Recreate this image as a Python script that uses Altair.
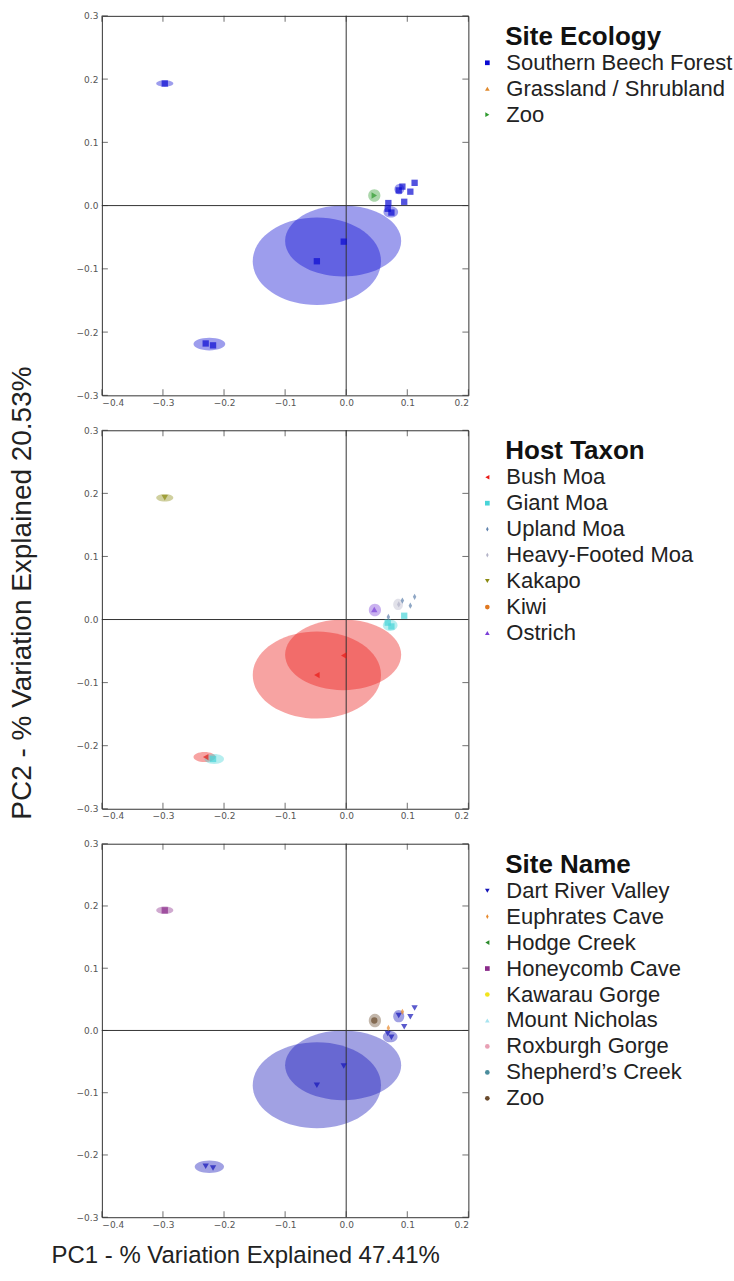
import altair as alt
import pandas as pd

# ---------------- data ----------------
pc1 = [-0.297, -0.230, -0.218, -0.048, -0.004, 0.046, 0.069, 0.068, 0.074, 0.086, 0.092, 0.095, 0.105, 0.112]
pc2 = [0.193, -0.218, -0.221, -0.088, -0.057, 0.016, 0.004, -0.005, -0.011, 0.024, 0.030, 0.006, 0.022, 0.036]

site_ecology = ["Southern Beech Forest"] * 5 + ["Zoo"] + ["Southern Beech Forest"] * 8
host_taxon = ["Kakapo", "Bush Moa", "Giant Moa", "Bush Moa", "Bush Moa", "Ostrich", "Upland Moa",
              "Giant Moa", "Giant Moa", "Heavy-Footed Moa", "Upland Moa", "Giant Moa", "Upland Moa", "Upland Moa"]
site_name = ["Honeycomb Cave", "Dart River Valley", "Dart River Valley", "Dart River Valley", "Dart River Valley",
             "Zoo", "Euphrates Cave", "Dart River Valley", "Dart River Valley", "Dart River Valley",
             "Euphrates Cave", "Dart River Valley", "Dart River Valley", "Dart River Valley"]

# confidence ellipses: group, centre (pc1, pc2), semi-axes (pc1 units, pc2 units)
eco_ell_group = ["Southern Beech Forest"] * 6 + ["Zoo"]
eco_ell_x = [-0.297, -0.224, -0.048, -0.005, 0.073, 0.087, 0.046]
eco_ell_y = [0.193, -0.219, -0.088, -0.056, -0.010, 0.026, 0.016]
eco_ell_rx = [0.014, 0.026, 0.105, 0.095, 0.012, 0.008, 0.010]
eco_ell_ry = [0.005, 0.010, 0.069, 0.056, 0.009, 0.008, 0.010]

host_ell_group = ["Kakapo", "Bush Moa", "Giant Moa", "Bush Moa", "Bush Moa", "Ostrich", "Giant Moa", "Heavy-Footed Moa"]
host_ell_x = [-0.297, -0.232, -0.216, -0.048, -0.005, 0.047, 0.072, 0.085]
host_ell_y = [0.193, -0.218, -0.221, -0.088, -0.056, 0.015, -0.009, 0.024]
host_ell_rx = [0.014, 0.018, 0.016, 0.105, 0.095, 0.010, 0.012, 0.008]
host_ell_ry = [0.006, 0.008, 0.008, 0.069, 0.056, 0.010, 0.009, 0.009]

site_ell_group = ["Honeycomb Cave", "Dart River Valley", "Dart River Valley", "Dart River Valley", "Zoo",
                  "Dart River Valley", "Dart River Valley"]
site_ell_x = [-0.297, -0.224, -0.048, -0.005, 0.047, 0.086, 0.072]
site_ell_y = [0.193, -0.219, -0.088, -0.056, 0.016, 0.023, -0.010]
site_ell_rx = [0.014, 0.024, 0.105, 0.095, 0.010, 0.009, 0.012]
site_ell_ry = [0.006, 0.010, 0.069, 0.056, 0.011, 0.010, 0.009]

x_ticks = [-0.4, -0.3, -0.2, -0.1, 0.0, 0.1, 0.2]
y_ticks = [-0.3, -0.2, -0.1, 0.0, 0.1, 0.2, 0.3]

x_title = "PC1 - % Variation Explained 47.41%"
y_title = "PC2 - % Variation Explained 20.53%"

THIN = "M0,-1L0.55,0L0,1L-0.55,0Z"

eco_domain = ["Southern Beech Forest", "Grassland / Shrubland", "Zoo"]
eco_colors = ["#0a0ad2", "#e0892c", "#2e9a2e"]
eco_shapes = ["square", "triangle-up", "triangle-right"]

host_domain = ["Bush Moa", "Giant Moa", "Upland Moa", "Heavy-Footed Moa", "Kakapo", "Kiwi", "Ostrich"]
host_colors = ["#ea1a16", "#48d4d8", "#5f82ad", "#b4b4c8", "#8a8a10", "#e07820", "#7b3fd8"]
host_shapes = ["triangle-left", "square", THIN, THIN, "triangle-down", "circle", "triangle-up"]

site_domain = ["Dart River Valley", "Euphrates Cave", "Hodge Creek", "Honeycomb Cave", "Kawarau Gorge",
               "Mount Nicholas", "Roxburgh Gorge", "Shepherd\u2019s Creek", "Zoo"]
site_colors = ["#1414b8", "#e8892c", "#2a8a2a", "#8a2a8a", "#f2e41c", "#a8e4f0", "#e8a0b4", "#4a8c9c", "#6a4a2c"]
site_shapes = ["triangle-down", THIN, "triangle-left", "square", "circle", "triangle-up", "circle", "circle", "circle"]

W = 367
XDOM = [-0.4, 0.2]
YDOM = [-0.3, 0.3]
FONT = "Liberation Sans"


def ellipse_path(r):
    k = 0.5523
    return (f"M1,0C1,{k*r:.4f} {k:.4f},{r:.4f} 0,{r:.4f}"
            f"C{-k:.4f},{r:.4f} -1,{k*r:.4f} -1,0"
            f"C-1,{-k*r:.4f} {-k:.4f},{-r:.4f} 0,{-r:.4f}"
            f"C{k:.4f},{-r:.4f} 1,{-k*r:.4f} 1,0Z")


def panel(groups, ell_g, ell_x, ell_y, ell_rx, ell_ry, title, dom, cols, shapes, h,
          show_x_title=False, show_y_title=False):
    ppx = W / (XDOM[1] - XDOM[0])
    ppy = h / (YDOM[1] - YDOM[0])
    pts = pd.DataFrame({"pc1": pc1, "pc2": pc2, "g": groups})
    ell = pd.DataFrame({"pc1": ell_x, "pc2": ell_y, "g": ell_g})
    ell["path"] = [ellipse_path((ry * ppy) / (rx * ppx)) for rx, ry in zip(ell_rx, ell_ry)]
    ell["sz"] = [(2 * rx * ppx) ** 2 for rx in ell_rx]

    xs = alt.Scale(domain=XDOM, nice=False, zero=False)
    ys = alt.Scale(domain=YDOM, nice=False, zero=False)
    xaxis = alt.Axis(values=x_ticks, format=".1f", ticks=False, domain=False, grid=False, labelPadding=3)
    yaxis = alt.Axis(values=y_ticks, format=".1f", ticks=False, domain=False, grid=False, labelPadding=4)
    xenc = alt.X("pc1:Q", title=None, axis=xaxis, scale=xs)
    yenc = alt.Y("pc2:Q", title=None, axis=yaxis, scale=ys)

    cscale = alt.Scale(domain=dom, range=cols)
    sscale = alt.Scale(domain=dom, range=shapes)

    ellipses = alt.Chart(ell).mark_point(filled=True, fillOpacity=0.4, strokeWidth=0).encode(
        x=xenc, y=yenc,
        color=alt.Color("g:N", scale=cscale, title=None),
        shape=alt.Shape("path:N", scale=None),
        size=alt.Size("sz:Q", scale=None),
    )

    zero_v = alt.Chart(pd.DataFrame({"v": [0.0]})).mark_rule(color="#333", strokeWidth=1).encode(
        x=alt.X("v:Q", scale=xs))
    zero_h = alt.Chart(pd.DataFrame({"v": [0.0]})).mark_rule(color="#333", strokeWidth=1).encode(
        y=alt.Y("v:Q", scale=ys))

    xt = pd.DataFrame({"t": x_ticks})
    yt = pd.DataFrame({"t": y_ticks})
    tick_style = dict(color="#333", thickness=1, size=6)
    tick_b = alt.Chart(xt).mark_tick(orient="vertical", yOffset=-3, **tick_style).encode(
        x=alt.X("t:Q", scale=xs), y=alt.Y(datum=-0.3, scale=ys))
    tick_t = alt.Chart(xt).mark_tick(orient="vertical", yOffset=3, **tick_style).encode(
        x=alt.X("t:Q", scale=xs), y=alt.Y(datum=0.3, scale=ys))
    tick_l = alt.Chart(yt).mark_tick(orient="horizontal", xOffset=3, **tick_style).encode(
        y=alt.Y("t:Q", scale=ys), x=alt.X(datum=-0.4, scale=xs))
    tick_r = alt.Chart(yt).mark_tick(orient="horizontal", xOffset=-3, **tick_style).encode(
        y=alt.Y("t:Q", scale=ys), x=alt.X(datum=0.2, scale=xs))

    points = alt.Chart(pts).mark_point(filled=True, size=40, strokeWidth=0).encode(
        x=xenc, y=yenc,
        color=alt.Color("g:N", scale=cscale, title=None,
                        legend=alt.Legend(orient="none", legendX=W + 8, legendY=36, symbolOpacity=1)),
        shape=alt.Shape("g:N", scale=sscale, title=None),
    )

    legend_title = alt.Chart(pd.DataFrame({"t": [title]})).mark_text(
        font=FONT, fontSize=26, fontWeight="bold", color="#111", align="left", baseline="middle"
    ).encode(text="t:N", x=alt.value(W + 37), y=alt.value(21))

    layers = [ellipses, zero_v, zero_h, tick_b, tick_t, tick_l, tick_r, points, legend_title]
    if show_x_title:
        layers.append(alt.Chart(pd.DataFrame({"t": [x_title]})).mark_text(
            font=FONT, fontSize=24, color="#222", align="center", baseline="middle"
        ).encode(text="t:N", x=alt.value(144), y=alt.value(h + 39)))
    if show_y_title:
        layers.append(alt.Chart(pd.DataFrame({"t": [y_title]})).mark_text(
            font=FONT, fontSize=28, color="#222", angle=270, align="center", baseline="middle"
        ).encode(text="t:N", x=alt.value(-79), y=alt.value(163)))

    return alt.layer(*layers).properties(width=W, height=h)


p1 = panel(site_ecology, eco_ell_group, eco_ell_x, eco_ell_y, eco_ell_rx, eco_ell_ry,
           "Site Ecology", eco_domain, eco_colors, eco_shapes, 380)
p2 = panel(host_taxon, host_ell_group, host_ell_x, host_ell_y, host_ell_rx, host_ell_ry,
           "Host Taxon", host_domain, host_colors, host_shapes, 379, show_y_title=True)
p3 = panel(site_name, site_ell_group, site_ell_x, site_ell_y, site_ell_rx, site_ell_ry,
           "Site Name", site_domain, site_colors, site_shapes, 374, show_x_title=True)

chart = alt.vconcat(p1, p2, p3, spacing=35, bounds="flush").resolve_scale(
    color="independent", shape="independent"
).properties(
    padding={"left": 8, "top": 10, "right": 0, "bottom": 4}
).configure_view(
    stroke="#333", strokeWidth=1
).configure_axis(
    labelFont="DejaVu Sans", labelFontSize=9, labelColor="#555"
).configure_legend(
    labelFont=FONT, labelFontSize=22, labelColor="#222", labelLimit=300,
    symbolSize=22, symbolStrokeWidth=0, symbolOpacity=1, rowPadding=4, labelOffset=8, padding=0
)

chart.save("out.html", embed_options={"renderer": "svg", "actions": False})
